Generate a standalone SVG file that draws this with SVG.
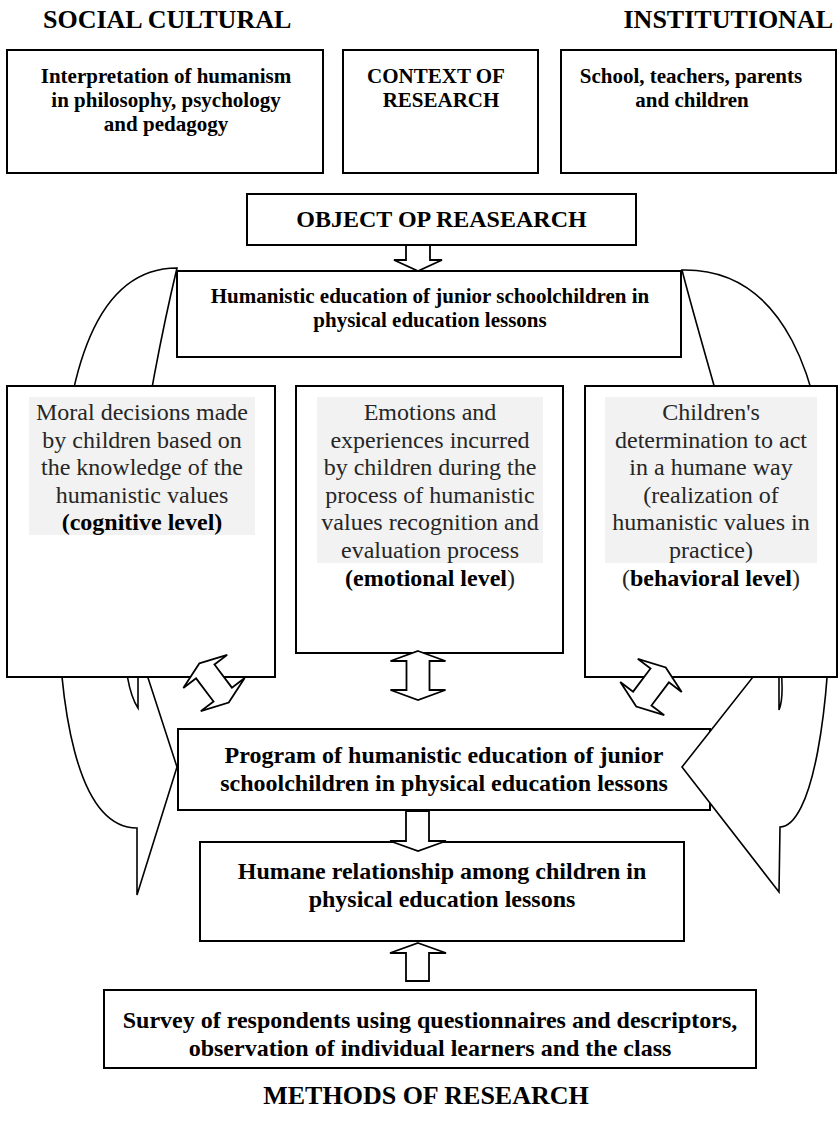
<svg xmlns="http://www.w3.org/2000/svg" xmlns:xlink="http://www.w3.org/1999/xlink" width="838" height="1133" viewBox="0 0 838 1133">
<style>
.box{fill:#fff;stroke:#000;stroke-width:2}
.band{fill:#fff;stroke:#000;stroke-width:1.6;stroke-linejoin:miter}
.blk{fill:#fff;stroke:#000;stroke-width:1.8;stroke-linejoin:miter}
.hl{fill:#f2f2f2}
text{font-family:"Liberation Serif","Times New Roman",serif;fill:#000}
.h{font-size:26px;font-weight:bold}
.b21{font-size:21px;font-weight:bold;text-anchor:middle}
.b24{font-size:24px;font-weight:bold;text-anchor:middle}
.r{font-size:24px;text-anchor:middle;fill:#262626}
.bo{font-weight:bold;fill:#000}
</style>
<defs>
<polygon id="dbl" points="0,-24.5 27.5,-14.5 11.5,-14.5 11.5,14.5 27.5,14.5 0,24.5 -27.5,14.5 -11.5,14.5 -11.5,-14.5 -27.5,-14.5"/>
</defs>
<rect width="838" height="1133" fill="#fff"/>
<text class="h" x="43" y="28">SOCIAL CULTURAL</text>
<text class="h" x="833" y="28" text-anchor="end">INSTITUTIONAL</text>
<g id="n-sociocultural">
<rect class="box" x="7" y="50" width="316" height="123"/>
<text class="b21" x="166" y="83">Interpretation of humanism</text>
<text class="b21" x="166" y="107">in philosophy, psychology</text>
<text class="b21" x="166" y="131">and pedagogy</text>
</g>
<g id="n-context">
<rect class="box" x="343" y="50" width="195" height="123"/>
<text class="b21" x="436" y="83">CONTEXT OF</text>
<text class="b21" x="441" y="107">RESEARCH</text>
</g>
<g id="n-institutional">
<rect class="box" x="561" y="50" width="275" height="123"/>
<text class="b21" x="691" y="83">School, teachers, parents</text>
<text class="b21" x="692" y="107">and children</text>
</g>
<g id="n-object">
<rect class="box" x="247" y="194" width="389" height="51"/>
<text class="b24" x="441.5" y="227">OBJECT OP REASEARCH</text>
</g>
<g id="n-program">
<rect class="box" x="178" y="729" width="532" height="81"/>
<text class="b24" x="444" y="763">Program of humanistic education of junior</text>
<text class="b24" x="444" y="791">schoolchildren in physical education lessons</text>
</g>
<g id="connectors-curved">
<path class="band" d="M177,268 C100,268 62,360 58,540 C54,720 80,828 137,828 L137,895 L177,767 L138,647 L138,708 C100,650 150,380 177,268 Z"/>
<path class="band" d="M682,270 C780,268 828,370 830,540 C834,720 810,827 780,827 L779,892 L682,767 L779,644 L779,710 C800,660 710,380 682,270 Z"/>
</g>
<g id="n-humanistic">
<rect class="box" x="177" y="271" width="504" height="86"/>
<text class="b21" x="430" y="303">Humanistic education of junior schoolchildren in</text>
<text class="b21" x="430" y="327">physical education lessons</text>
</g>
<g id="n-cognitive">
<rect class="box" x="7" y="386" width="268" height="291"/>
<rect class="hl" x="29" y="397" width="226" height="138"/>
<text class="r" x="142" y="420">Moral decisions made</text>
<text class="r" x="142" y="447.6">by children based on</text>
<text class="r" x="142" y="475.2">the knowledge of the</text>
<text class="r" x="142" y="502.8">humanistic values</text>
<text class="r bo" x="142" y="530.4">(cognitive level)</text>
</g>
<g id="n-emotional">
<rect class="box" x="296" y="386" width="267" height="267"/>
<rect class="hl" x="317" y="397" width="226" height="166"/>
<text class="r" x="430" y="420">Emotions and</text>
<text class="r" x="430" y="447.6">experiences incurred</text>
<text class="r" x="430" y="475.2">by children during the</text>
<text class="r" x="430" y="502.8">process of humanistic</text>
<text class="r" x="430" y="530.4">values recognition and</text>
<text class="r" x="430" y="558">evaluation process</text>
<text class="r" x="430" y="585.6"><tspan class="bo">(emotional level</tspan>)</text>
</g>
<g id="n-behavioral">
<rect class="box" x="585" y="386" width="252" height="291"/>
<rect class="hl" x="605" y="397" width="212" height="166"/>
<text class="r" x="711" y="420">Children's</text>
<text class="r" x="711" y="447.6">determination to act</text>
<text class="r" x="711" y="475.2">in a humane way</text>
<text class="r" x="711" y="502.8">(realization of</text>
<text class="r" x="711" y="530.4">humanistic values in</text>
<text class="r" x="711" y="558">practice)</text>
<text class="r" x="711" y="585.6">(<tspan class="bo">behavioral level</tspan>)</text>
</g>
<g id="n-humane">
<rect class="box" x="200" y="842" width="484" height="99"/>
<text class="b24" x="442" y="879">Humane relationship among children in</text>
<text class="b24" x="442" y="907">physical education lessons</text>
</g>
<g id="n-methods">
<rect class="box" x="104" y="990" width="652" height="78"/>
<text class="b24" x="430" y="1028">Survey of respondents using questionnaires and descriptors,</text>
<text class="b24" x="430" y="1056">observation of individual learners and the class</text>
</g>
<text class="h" x="426" y="1104" text-anchor="middle">METHODS OF RESEARCH</text>
<g id="connectors-block">
<polygon class="blk" points="406,245 430,245 430,260 442,260 418,271 394,260 406,260"/>
<use xlink:href="#dbl" class="blk" transform="translate(418,675.5)"/>
<use xlink:href="#dbl" class="blk" transform="translate(214,683) rotate(-37)"/>
<use xlink:href="#dbl" class="blk" transform="translate(651,687) rotate(37)"/>
<polygon class="blk" points="406,811 429,811 429,841 446,841 418,851 390,841 406,841"/>
<polygon class="blk" points="418,943 446,953 429,953 429,981 406,981 406,953 390,953"/>
</g>
</svg>
